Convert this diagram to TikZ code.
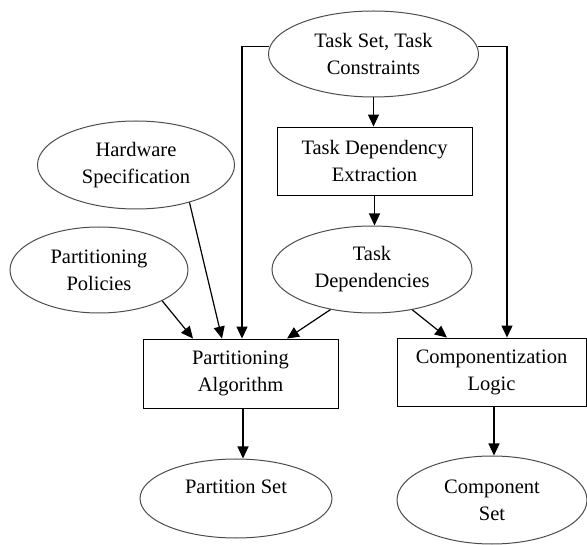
\documentclass[tikz,border=0pt]{standalone}
\usepackage{fontspec}
\setmainfont{Liberation Serif}
\usetikzlibrary{shapes.geometric,arrows.meta}
\begin{document}
\begin{tikzpicture}[x=1pt,y=-1pt,
 font=\fontsize{20.5}{27}\selectfont,
 ell/.style={ellipse, draw=black!70, line width=1pt, inner sep=0pt, align=center},
 box/.style={rectangle, draw=black, line width=0.9pt, inner sep=0pt, align=center},
 arr/.style={draw=black, line width=1.2pt, -{Triangle[length=12pt,width=11pt]}}]
\useasboundingbox (0,0) rectangle (587,545);
\node[ell, minimum width=210pt, minimum height=86pt] (ts) at (373.5,54) {Task Set, Task\\Constraints};
\node[ell, minimum width=197pt, minimum height=88pt] (hw) at (136,165) {Hardware\\Specification};
\node[ell, minimum width=178pt, minimum height=86pt] (pp) at (99,270) {Partitioning\\Policies};
\node[ell, minimum width=200pt, minimum height=87pt] (td) at (372,269.5) {Task\\Dependencies};
\node[ell, minimum width=192pt, minimum height=79pt] (ps) at (236,498.5) {Partition Set\\[-12pt]\strut};
\node[ell, minimum width=190pt, minimum height=88pt] (cs) at (492,500) {Component\\Set};
\node[box, minimum width=195pt, minimum height=68pt] (tde) at (374.5,161) {Task Dependency\\Extraction};
\node[box, minimum width=195pt, minimum height=69pt] (pa) at (240.5,373.5) {Partitioning\\Algorithm};
\node[box, minimum width=189pt, minimum height=68pt] (cl) at (491.5,372) {Componentization\\Logic};
\draw[arr] (ts.south) -- (ts.south |- tde.north);
\draw[arr] (tde.south) -- (tde.south |- td.north);
\draw[arr] (ts.176) -| ([xshift=1.5pt]pa.north);
\draw[arr] (ts.4) -| ([xshift=15.5pt]cl.north);
\draw[arr] (pp.-26) -- ([xshift=-47.5pt]pa.north);
\draw[arr] (hw.-35) -- ([xshift=-18.5pt]pa.north);
\draw[arr] (td.-136) -- ([xshift=46.5pt]pa.north);
\draw[arr] (td.-45) -- ([xshift=-44.5pt]cl.north);
\draw[arr] ([xshift=2.5pt]pa.south) -- ([xshift=2.5pt]pa.south |- ps.north);
\draw[arr] ([xshift=2.5pt]cl.south) -- ([xshift=2.5pt]cl.south |- cs.north);
\end{tikzpicture}
\end{document}
